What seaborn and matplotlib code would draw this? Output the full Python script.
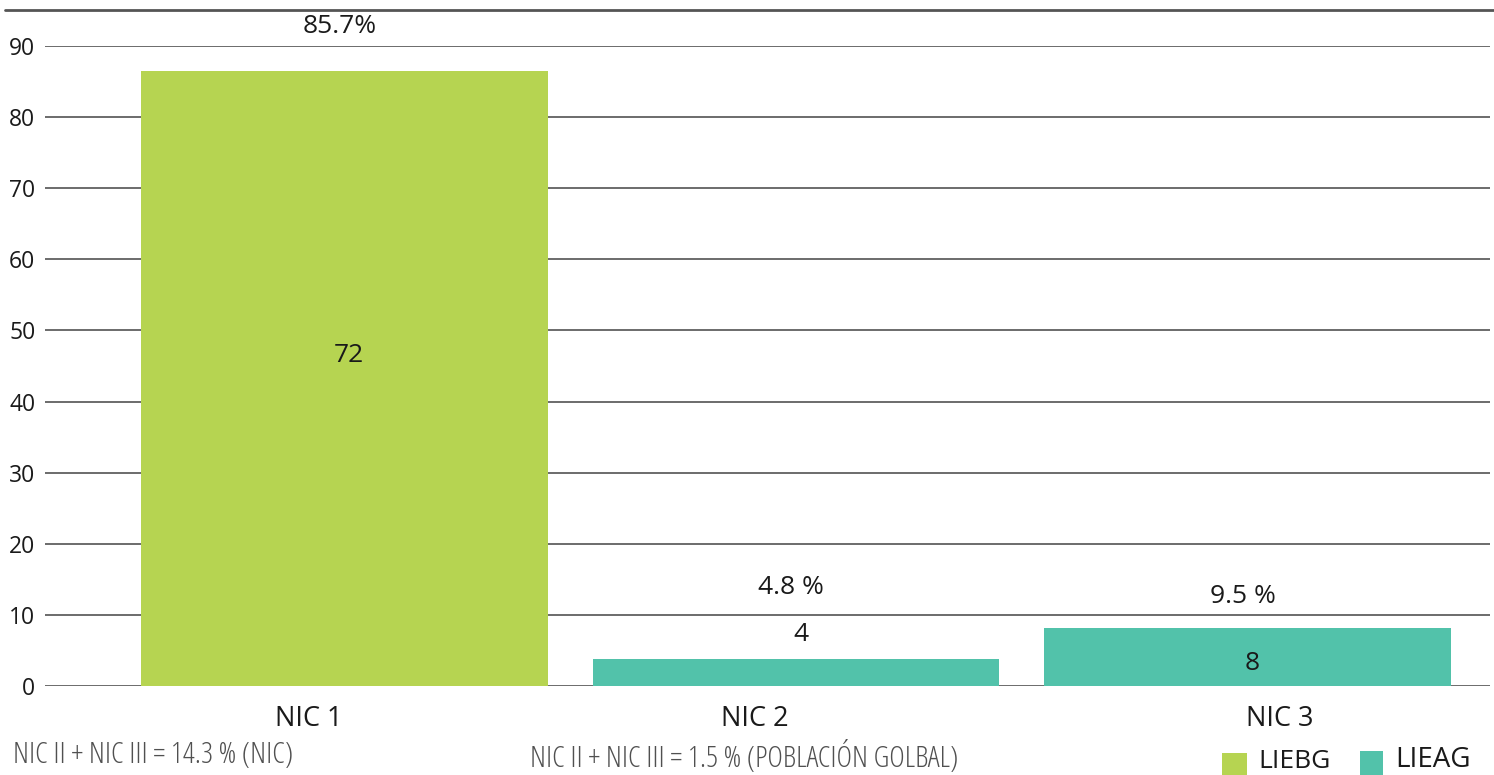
import matplotlib
matplotlib.use("Agg")
import matplotlib.pyplot as plt
import seaborn as sns
import pandas as pd
from matplotlib.lines import Line2D
from matplotlib.patches import Rectangle

# ---- data ----
categories = ["NIC 1", "NIC 2", "NIC 3"]
groups = ["LIEBG", "LIEAG", "LIEAG"]
bar_heights = [86.5, 3.8, 8.1]
count_labels = ["72", "4", "8"]
pct_labels = ["85.7%", "4.8 %", "9.5 %"]
y_ticks = [0, 10, 20, 30, 40, 50, 60, 70, 80, 90]
footnote_left = "NIC II + NIC III = 14.3 % (NIC)"
footnote_mid = "NIC II + NIC III = 1.5 % (POBLACIÓN GOLBAL)"
legend_labels = ["LIEBG", "LIEAG"]

colors = {"LIEBG": "#B6D451", "LIEAG": "#52C2AA"}

sns.set_style("white")
plt.rcParams["font.family"] = ["Open Sans", "DejaVu Sans"]

W, H = 1494, 775
fig = plt.figure(figsize=(W / 100, H / 100), dpi=100)
ax = fig.add_axes([45 / W, 1 - 686 / H, (1490 - 45) / W, (686 - 46) / H])

df = pd.DataFrame({"cat": categories, "val": bar_heights, "grp": groups})
sns.barplot(data=df, x="cat", y="val", hue="grp", palette=colors,
            dodge=False, width=0.9, saturation=1, legend=False, ax=ax,
            zorder=3)
for p in ax.patches:
    p.set_edgecolor("none")

ax.set_ylim(0, 90)
ax.set_xlim(-0.663, 2.537)
ax.set_yticks(y_ticks)
ax.set_yticklabels([str(t) for t in y_ticks], fontsize=16.5, color="#1a1a1a")
ax.tick_params(axis="y", length=0, pad=7)
# category labels sit slightly off the bar centres in the reference
tick_offsets = [-0.08, -0.09, 0.072]
ax.set_xticks([i + o for i, o in enumerate(tick_offsets)])
ax.set_xticklabels(categories)
ax.tick_params(axis="x", length=0, pad=14, labelsize=19.5, labelcolor="#1a1a1a")
ax.set_xlabel("")
ax.set_ylabel("")
for s in ax.spines.values():
    s.set_visible(False)
ax.yaxis.grid(True, color="#6b6b6b", linewidth=1.4, zorder=0)
ax.xaxis.grid(False)
ax.set_axisbelow(True)

# count labels (positions per bar)
count_y = [46.5, 7.2, 3.2]
for i, (lab, yy) in enumerate(zip(count_labels, count_y)):
    ax.text(i + 0.01, yy, lab, ha="center", va="center", fontsize=19, color="#1a1a1a", zorder=5)
pct_y = [92.7, 13.8, 12.6]
for i, (lab, yy) in enumerate(zip(pct_labels, pct_y)):
    ax.text(i - 0.01, yy, lab, ha="center", va="center", fontsize=19, color="#1a1a1a",
            zorder=5, clip_on=False)

# top rule
fig.add_artist(Line2D([5 / W, 1.0], [1 - 10 / H, 1 - 10 / H], color="#555555",
                      linewidth=2.0, transform=fig.transFigure))

# footnotes
fig.text(13 / W, 1 - 755 / H, footnote_left, fontsize=21.5, color="#505050",
         ha="left", va="center", fontstretch="condensed")
fig.text(530 / W, 1 - 757 / H, footnote_mid, fontsize=21.5, color="#505050",
         ha="left", va="center", fontstretch="condensed")

# legend (sits at the very bottom edge like the reference)
fig.add_artist(Rectangle((1222 / W, 1 - 776 / H), 25 / W, 23 / H,
                         facecolor=colors["LIEBG"], edgecolor="none",
                         transform=fig.transFigure))
fig.text(1258 / W, 1 - 762 / H, legend_labels[0], fontsize=19, color="#1a1a1a",
         ha="left", va="center")
fig.add_artist(Rectangle((1360 / W, 1 - 775 / H), 23 / W, 24 / H,
                         facecolor=colors["LIEAG"], edgecolor="none",
                         transform=fig.transFigure))
fig.text(1395 / W, 1 - 760 / H, legend_labels[1], fontsize=20, color="#1a1a1a",
         ha="left", va="center")

fig.savefig("out.png", dpi=100, facecolor="white")
